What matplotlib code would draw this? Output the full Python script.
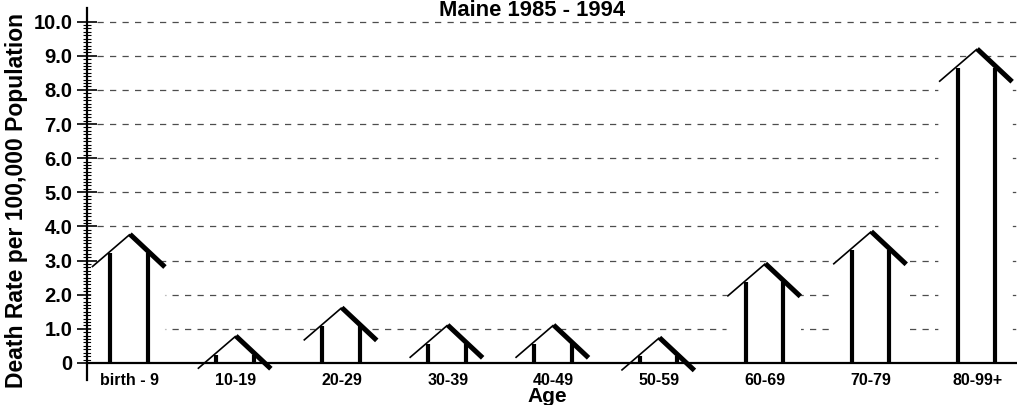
import numpy as np
import matplotlib
matplotlib.use("Agg")
from matplotlib import pyplot as plt
from matplotlib.ticker import FixedLocator

# death rate per 100,000 by age group, Maine 1985 - 1994
ages = ["birth - 9", "10-19", "20-29", "30-39", "40-49", "50-59", "60-69", "70-79", "80-99+"]
rates = [3.22, 0.24, 1.07, 0.56, 0.56, 0.19, 2.36, 3.30, 8.65]
yticks = [0, 1, 2, 3, 4, 5, 6, 7, 8, 9, 10]
ytick_labels = ["0", "1.0", "2.0", "3.0", "4.0", "5.0", "6.0", "7.0", "8.0", "9.0", "10.0"]

plt.rcParams["font.family"] = ["Liberation Sans", "DejaVu Sans"]
plt.rcParams["font.weight"] = "bold"

W, H = 1017, 405
fig = plt.figure(figsize=(W / 100, H / 100), dpi=100)
ax = fig.add_axes([87 / W, (H - 380) / H, (W - 87) / W, (380 - 8) / H])

ax.set_xlim(-0.406, 8.376)
ax.set_ylim(-0.5, 10.4)

# dashed grid lines (drawn by hand so they start a little right of the axis)
ax.hlines(yticks[1:], -0.31, 8.376, colors="0.3", linewidth=0.9,
          linestyles=(0, (5, 5)), zorder=1)

# little houses: two posts and a roof, white inside
post_l, post_r = 0.185, 0.17
roof_l, roof_r = 0.36, 0.33
roof_up, roof_drop = 0.55, 0.96
for i, v in enumerate(rates):
    apex = v + roof_up
    eave = apex - roof_drop
    fx = [i - roof_l, i - roof_l, i, i + roof_r, i + roof_r]
    fy = [0, max(eave, 0), apex, max(eave, 0), 0]
    ax.fill(fx, fy, color="white", zorder=2)
    ax.vlines([i - post_l, i + post_r], 0, v, colors="black", linewidth=3.0, zorder=3)
    ax.plot([i - roof_l, i], [eave, apex], color="black", linewidth=1.2,
            solid_capstyle="butt", zorder=4)
    ax.plot([i, i + roof_r], [apex, eave], color="black", linewidth=3.6,
            solid_capstyle="butt", zorder=4)

for s in ["top", "right"]:
    ax.spines[s].set_visible(False)
ax.spines["bottom"].set_position(("data", 0))
ax.spines["bottom"].set_linewidth(1.6)
ax.spines["left"].set_linewidth(1.6)

ax.set_xticks(range(len(ages)))
ax.set_xticklabels(ages, fontsize=11.5, fontweight="bold")
ax.tick_params(axis="x", length=0, pad=7)

ax.set_yticks(yticks)
ax.set_yticklabels(ytick_labels, fontsize=14.5, fontweight="bold")
ax.yaxis.set_minor_locator(FixedLocator(np.arange(0, 10.01, 0.1)))
ax.tick_params(axis="y", which="major", direction="inout", length=14, width=1.2, pad=3.5)
ax.tick_params(axis="y", which="minor", direction="inout", length=6, width=0.8)

fig.text(17 / W, 0.505, "Death Rate per 100,000 Population", rotation=90,
         ha="center", va="center", fontsize=16.5, fontweight="bold")
fig.text(547 / W, (H - 402) / H, "Age", ha="center", va="baseline",
         fontsize=15, fontweight="bold")
fig.text(532 / W, (H - 16) / H, "Maine 1985 - 1994", ha="center", va="baseline",
         fontsize=15.8, fontweight="bold")

fig.savefig("out.png", dpi=100)
